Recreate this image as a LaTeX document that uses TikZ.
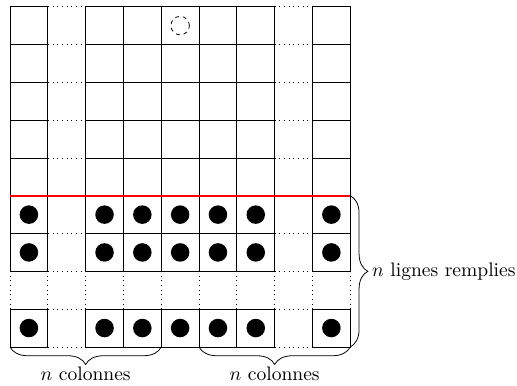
\documentclass[tikz,border=0pt]{standalone}
\usepackage{amsmath,amssymb}
\usepackage{tikz}
\usetikzlibrary{decorations.pathreplacing,calc}

\tikzset{
  accolade/.style={decorate,decoration={brace,amplitude=9pt}},
  jeton/.style={fill=black},
}

\begin{document}
\begin{tikzpicture}[x=0.68cm,y=0.68cm]
        \useasboundingbox (-0.265,-1.008) rectangle (13.41,9.177);
        % Solid cells
        \foreach \i in {0,2,3,4,5,6,8}
          \foreach \j in {0,2,3,...,8}
            \draw (\i,\j) rectangle ++(1,1);
        % Dotted gaps (columns)
        \foreach \j in {0,...,9} {
          \draw[dotted] (1,\j) -- (2,\j);
          \draw[dotted] (7,\j) -- (8,\j);
        }
        % Dotted gap (row)
        \foreach \i in {0,...,9}
          \draw[dotted] (\i,1) -- (\i,2);
        % Filled rows
        \foreach \i in {0,2,3,4,5,6,8}
          \foreach \j in {0,2,3}
            \fill[jeton] (\i+0.5,\j+0.5) circle (0.245);
        % Empty spot
        \draw[dash pattern=on 2pt off 2pt] (4.5,8.5) circle (0.245);
        % Red line
        \draw[red,line width=0.8pt] (0,4) -- (9,4);
        % Corners
        \coordinate (A) at (0,0);
        \coordinate (B) at (4,0);
        \coordinate (C) at (5,0);
        \coordinate (D) at (9,0);
        \coordinate (E) at (9,4);
        % Braces
        \draw[accolade,decoration={mirror}] (A) -- (B)
          node[midway,below=9pt,inner sep=1pt] (colA) {$n$ colonnes};
        \draw[accolade,decoration={mirror}] (C) -- (D)
          node[midway,below=9pt,inner sep=1pt] (colB) {$n$ colonnes};
        \draw[accolade] (E) -- (D)
          node[midway,right=10pt,inner sep=1pt] (lignes) {$n$ lignes remplies};
      \end{tikzpicture}
\end{document}
